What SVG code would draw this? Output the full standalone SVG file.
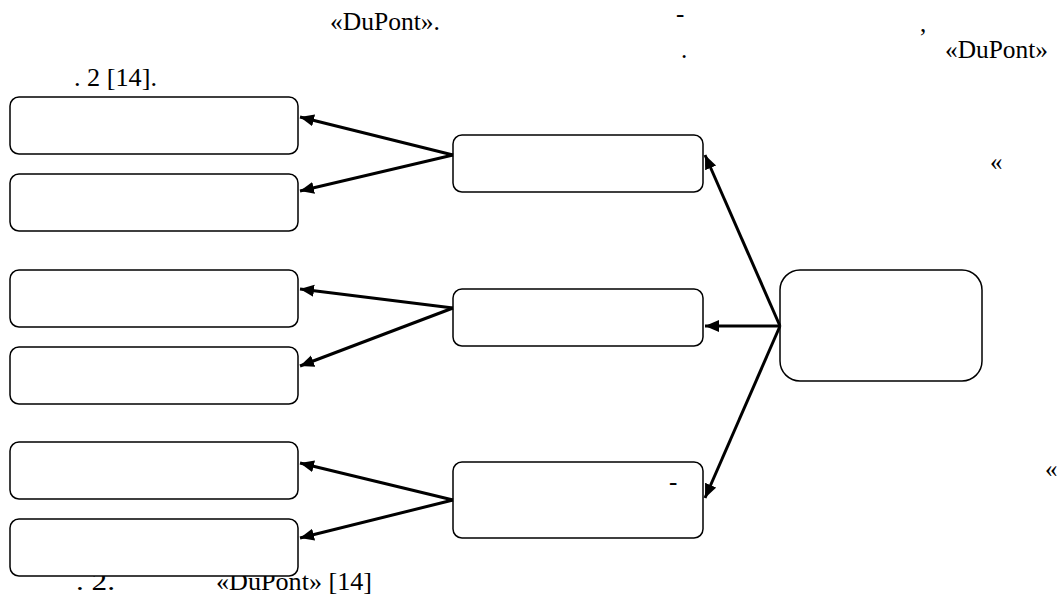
<svg xmlns="http://www.w3.org/2000/svg" width="1060" height="601" viewBox="0 0 1060 601">
<style>
.box{fill:#fff;stroke:#000;stroke-width:1.5}
.t{font-family:"Liberation Serif","Times New Roman",serif;font-size:25px;fill:#000}
.c{stroke:#000;stroke-width:3;fill:none;marker-end:url(#ah)}
</style>
<defs>
<marker id="ah" markerUnits="userSpaceOnUse" markerWidth="16" markerHeight="14" refX="14" refY="6" orient="auto">
<path d="M0,0 L14,6 L0,12 Z" fill="#000"/>
</marker>
</defs>
<rect width="1060" height="601" fill="#fff"/>
<g id="texts">
<text class="t" x="330" y="30" textLength="110" lengthAdjust="spacingAndGlyphs">«DuPont».</text>
<text class="t" x="676" y="22">-</text>
<text class="t" x="920" y="32">,</text>
<text class="t" x="681" y="58">.</text>
<text class="t" x="945" y="58" textLength="103" lengthAdjust="spacingAndGlyphs">«DuPont»</text>
<text class="t" x="74" y="86" textLength="83" lengthAdjust="spacingAndGlyphs">. 2 [14].</text>
<text class="t" x="990" y="170">«</text>
<text class="t" x="1045" y="477">«</text>
<text class="t" x="76" y="590" textLength="39" lengthAdjust="spacingAndGlyphs">. 2.</text>
<text class="t" x="216" y="590" textLength="156" lengthAdjust="spacingAndGlyphs">«DuPont» [14]</text>
</g>
<g id="n1"><rect class="box" x="10" y="97" width="288" height="57" rx="9"/></g>
<g id="n2"><rect class="box" x="10" y="174" width="288" height="57" rx="9"/></g>
<g id="n3"><rect class="box" x="10" y="270" width="288" height="57" rx="9"/></g>
<g id="n4"><rect class="box" x="10" y="347" width="288" height="57" rx="9"/></g>
<g id="n5"><rect class="box" x="10" y="442" width="288" height="57" rx="9"/></g>
<g id="n6"><rect class="box" x="10" y="519" width="288" height="57" rx="9"/></g>
<g id="m1"><rect class="box" x="453" y="135" width="250" height="57" rx="9"/></g>
<g id="m2"><rect class="box" x="453" y="289" width="250" height="57" rx="9"/></g>
<g id="m3"><rect class="box" x="453" y="462" width="250" height="76" rx="9"/><text class="t" x="669" y="490">-</text></g>
<g id="root"><rect class="box" x="780" y="270" width="202" height="111" rx="20"/></g>
<g id="connectors">
<line class="c" x1="453" y1="155" x2="300" y2="117"/>
<line class="c" x1="453" y1="155" x2="300" y2="191"/>
<line class="c" x1="453" y1="308" x2="300" y2="289"/>
<line class="c" x1="453" y1="308" x2="300" y2="366"/>
<line class="c" x1="453" y1="500" x2="300" y2="463"/>
<line class="c" x1="453" y1="500" x2="300" y2="538"/>
<line class="c" x1="780" y1="326" x2="705" y2="155"/>
<line class="c" x1="780" y1="326" x2="705" y2="326"/>
<line class="c" x1="780" y1="326" x2="705" y2="498"/>
</g>
</svg>
